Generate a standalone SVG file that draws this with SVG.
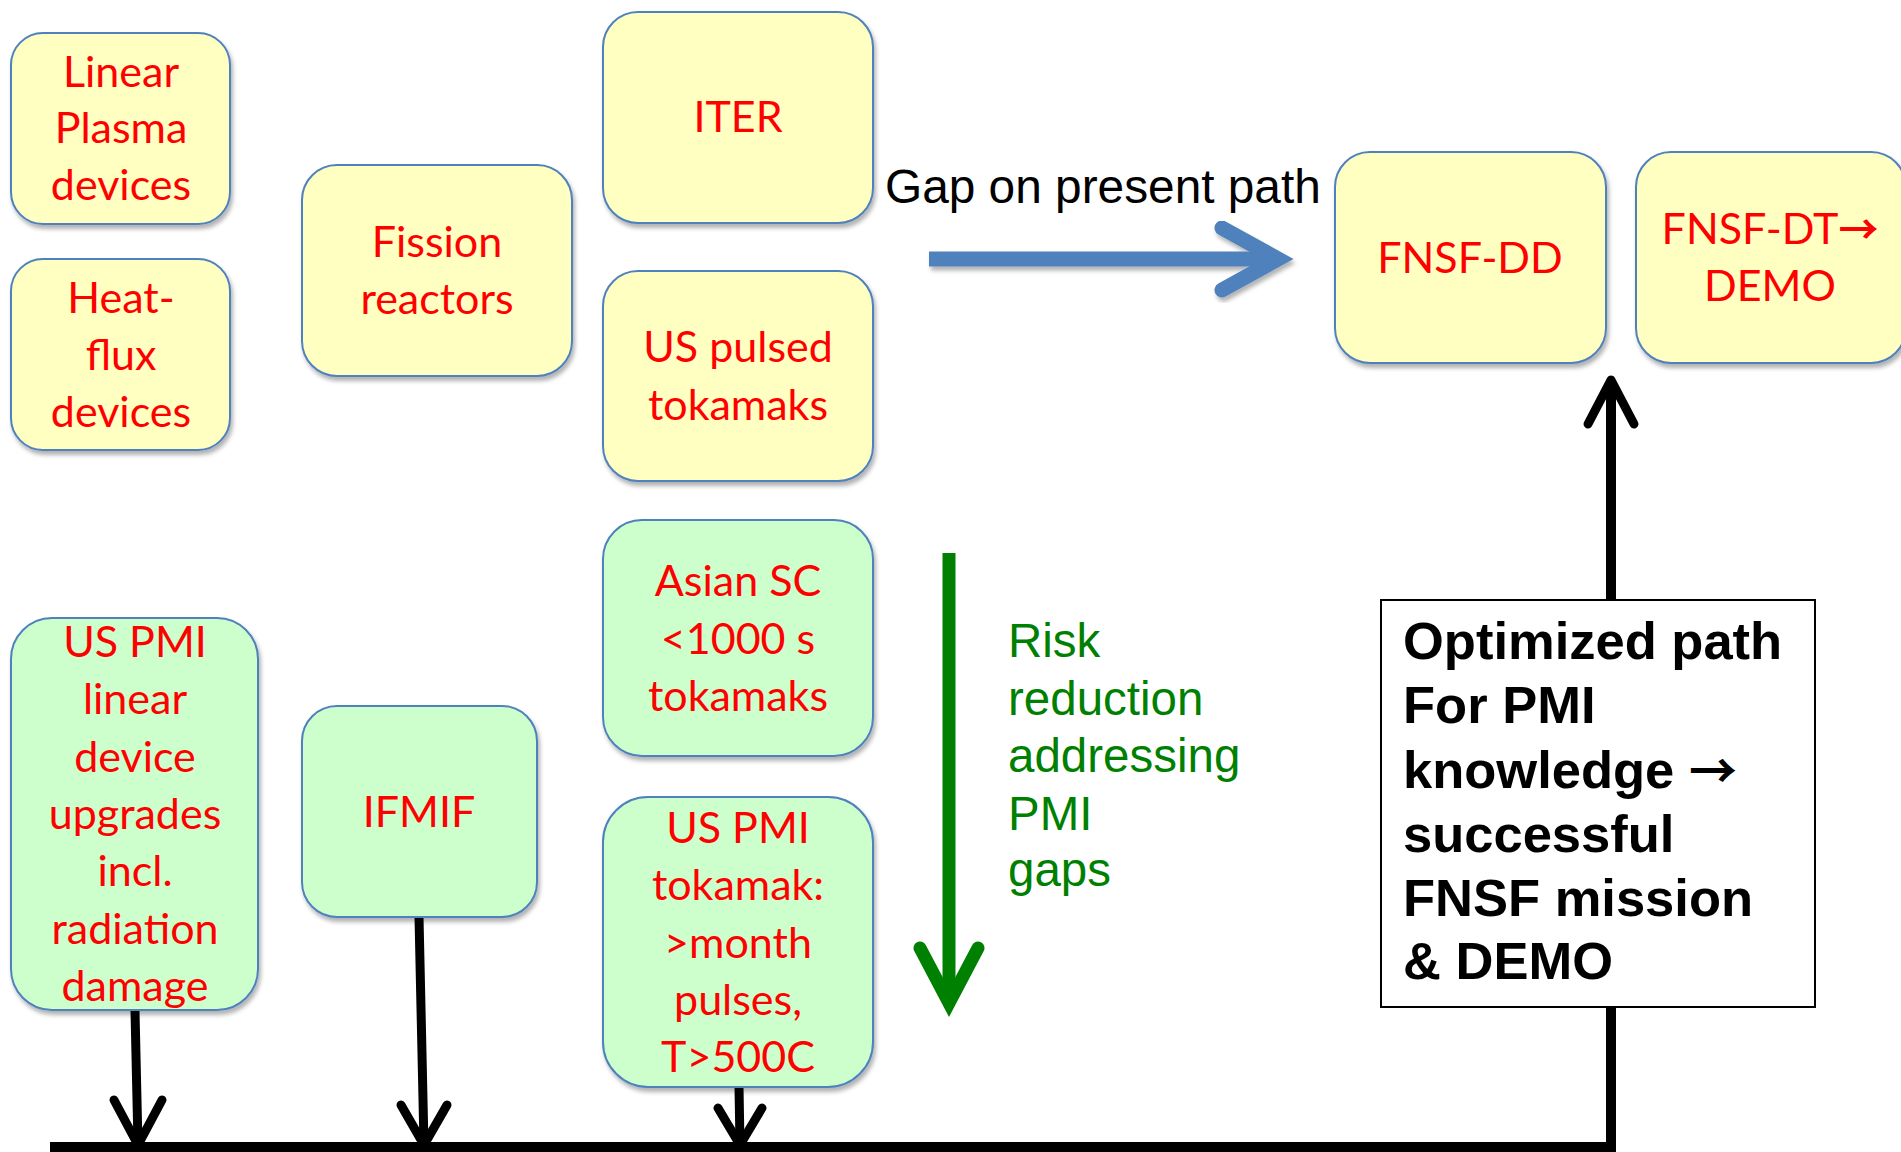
<svg xmlns="http://www.w3.org/2000/svg" width="1901" height="1152" viewBox="0 0 1901 1152">
<style>
.box{stroke:#4F81BD;stroke-width:2;filter:url(#sh)}
.y{fill:#FFFFC2}
.g{fill:#CCFFCC}
.lbl{font-family:Lato,"Liberation Sans",sans-serif;font-size:43px;fill:#FF0000;text-anchor:middle}
.arw{font-family:"Noto Sans CJK JP",sans-serif;font-weight:bold}
.blk{stroke:#000;stroke-width:9;fill:none;stroke-linecap:round;stroke-linejoin:round}
</style>
<defs>
<filter id="sh" x="-10%" y="-10%" width="130%" height="130%">
<feDropShadow dx="2" dy="4" stdDeviation="2" flood-color="#000" flood-opacity="0.3"/>
</filter>
</defs>
<rect width="1901" height="1152" fill="#fff"/>

<g id="connectors">
<!-- blue gap arrow -->
<g filter="url(#sh)">
<line x1="929" y1="259" x2="1270" y2="259" stroke="#4F81BD" stroke-width="15"/>
<polyline points="1222,228 1278,259 1222,290" fill="none" stroke="#4F81BD" stroke-width="15" stroke-linecap="round" stroke-linejoin="miter"/>
</g>
<!-- green risk arrow -->
<line x1="949" y1="553" x2="949" y2="995" stroke="#008000" stroke-width="13"/>
<polyline points="920,948 949,1003 978,948" fill="none" stroke="#008000" stroke-width="13" stroke-linecap="round" stroke-linejoin="miter"/>
<!-- bottom bus -->
<line x1="50" y1="1147" x2="1616" y2="1147" stroke="#000" stroke-width="10"/>
<line x1="1611" y1="1152" x2="1611" y2="385" stroke="#000" stroke-width="10"/>
<polyline class="blk" points="1588,424 1611,380 1634,424"/>
<!-- down arrows -->
<line class="blk" x1="135" y1="1011" x2="138" y2="1145"/>
<polyline class="blk" points="114,1100 138,1145 162,1100"/>
<line class="blk" x1="419" y1="917" x2="424" y2="1145"/>
<polyline class="blk" points="401,1105 424,1145 447,1105"/>
<line class="blk" x1="739" y1="1087" x2="740" y2="1145"/>
<polyline class="blk" points="718,1108 740,1145 762,1108"/>
</g>

<g id="linear-plasma">
<rect class="box y" x="11" y="33" width="219" height="191" rx="32"/>
<text class="lbl" x="121" y="87">Linear</text>
<text class="lbl" x="121" y="143">Plasma</text>
<text class="lbl" x="121" y="200">devices</text>
</g>
<g id="heat-flux">
<rect class="box y" x="11" y="259" width="219" height="191" rx="32"/>
<text class="lbl" x="121" y="313">Heat-</text>
<text class="lbl" x="121" y="370">flux</text>
<text class="lbl" x="121" y="427">devices</text>
</g>
<g id="fission">
<rect class="box y" x="302" y="165" width="270" height="211" rx="35"/>
<text class="lbl" x="437" y="257">Fission</text>
<text class="lbl" x="437" y="314">reactors</text>
</g>
<g id="iter">
<rect class="box y" x="603" y="12" width="270" height="211" rx="35"/>
<text class="lbl" x="738" y="132">ITER</text>
</g>
<g id="us-pulsed">
<rect class="box y" x="603" y="271" width="270" height="210" rx="35"/>
<text class="lbl" x="738" y="362">US pulsed</text>
<text class="lbl" x="738" y="420">tokamaks</text>
</g>
<g id="asian-sc">
<rect class="box g" x="603" y="520" width="270" height="236" rx="39"/>
<text class="lbl" x="738" y="596">Asian SC</text>
<text class="lbl" x="738" y="654">&lt;1000 s</text>
<text class="lbl" x="738" y="711">tokamaks</text>
</g>
<g id="us-pmi-tokamak">
<rect class="box g" x="603" y="797" width="270" height="290" rx="45"/>
<text class="lbl" x="738" y="843">US PMI</text>
<text class="lbl" x="738" y="900">tokamak:</text>
<text class="lbl" x="738" y="958">&gt;month</text>
<text class="lbl" x="738" y="1015">pulses,</text>
<text class="lbl" x="738" y="1072">T&gt;500C</text>
</g>
<g id="us-pmi-linear">
<rect class="box g" x="11" y="618" width="247" height="392" rx="41"/>
<text class="lbl" x="135" y="657">US PMI</text>
<text class="lbl" x="135" y="714">linear</text>
<text class="lbl" x="135" y="772">device</text>
<text class="lbl" x="135" y="829">upgrades</text>
<text class="lbl" x="135" y="886">incl.</text>
<text class="lbl" x="135" y="944">radiation</text>
<text class="lbl" x="135" y="1001">damage</text>
</g>
<g id="ifmif">
<rect class="box g" x="302" y="706" width="235" height="211" rx="35"/>
<text class="lbl" x="419" y="827">IFMIF</text>
</g>
<g id="fnsf-dd">
<rect class="box y" x="1335" y="152" width="271" height="211" rx="35"/>
<text class="lbl" x="1470" y="273">FNSF-DD</text>
</g>
<g id="fnsf-dt">
<rect class="box y" x="1636" y="152" width="270" height="211" rx="35"/>
<text class="lbl" x="1770" y="244">FNSF-DT<tspan class="arw" font-weight="normal" font-size="40">→</tspan></text>
<text class="lbl" x="1770" y="301">DEMO</text>
</g>
<g id="optimized-path">
<rect x="1381" y="600" width="434" height="407" fill="#fff" stroke="#000" stroke-width="2"/>
<g font-family="'Liberation Sans',Arial,sans-serif" font-weight="bold" font-size="52.5" fill="#000">
<text x="1403" y="659">Optimized path</text>
<text x="1403" y="723">For PMI</text>
<text x="1403" y="788">knowledge <tspan class="arw" font-size="48">→</tspan></text>
<text x="1403" y="852">successful</text>
<text x="1403" y="916">FNSF mission</text>
<text x="1403" y="979">&amp; DEMO</text>
</g>
</g>
<g id="gap-label">
<text x="885" y="203" font-family="'Liberation Sans',Arial,sans-serif" font-size="47.8" fill="#000">Gap on present path</text>
</g>
<g id="risk-label" font-family="'Liberation Sans',Arial,sans-serif" font-size="47.5" fill="#008000">
<text x="1008" y="657">Risk</text>
<text x="1008" y="715">reduction</text>
<text x="1008" y="772">addressing</text>
<text x="1008" y="830">PMI</text>
<text x="1008" y="886">gaps</text>
</g>
</svg>
